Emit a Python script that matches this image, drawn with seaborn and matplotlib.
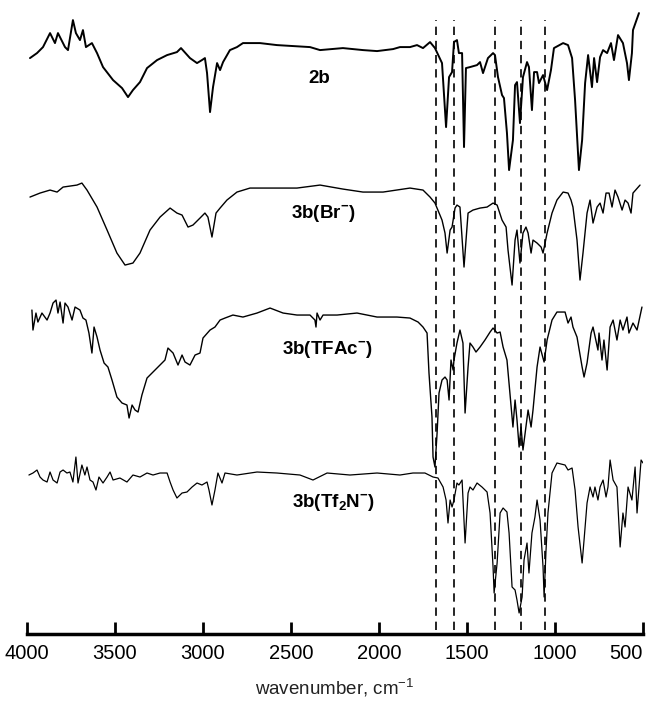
import pandas as pd
import seaborn as sns
import matplotlib.pyplot as plt

sns.set_theme(style="white")
plt.rcParams["font.family"] = ["Liberation Sans", "DejaVu Sans"]
plt.rcParams["mathtext.fontset"] = "custom"
plt.rcParams["mathtext.rm"] = "Liberation Sans"
plt.rcParams["mathtext.bf"] = "Liberation Sans:bold"
plt.rcParams["text.color"] = "black"

# wavenumber (cm-1) / offset transmittance (a.u.)
WN_2B = [3983, 3943, 3909, 3869, 3841, 3824, 3784, 3767, 3739, 3722, 3699, 3682, 3665, 3631,
         3602, 3568, 3511, 3460, 3426, 3398, 3358, 3318, 3261, 3204, 3148, 3125, 3074, 3034,
         3006, 2989, 2977, 2960, 2943, 2920, 2903, 2886, 2847, 2807, 2773, 2676, 2580, 2392,
         2335, 2205, 2091, 2011, 1920, 1881, 1824, 1784, 1750, 1710, 1682, 1642, 1619, 1602,
         1585, 1574, 1557, 1546, 1528, 1517, 1506, 1483, 1443, 1426, 1409, 1381, 1352, 1341,
         1324, 1301, 1290, 1273, 1261, 1239, 1227, 1216, 1199, 1182, 1159, 1148, 1131, 1119,
         1102, 1091, 1068, 1045, 1023, 1006, 954, 926, 903, 886, 864, 846, 829, 812, 790, 778,
         761, 744, 727, 704, 682, 665, 642, 614, 591, 580, 563, 557, 523]
T_2B = [576, 581, 587, 601, 591, 601, 587, 584, 614, 601, 594, 604, 587, 591,
        581, 567, 554, 546, 537, 544, 552, 566, 574, 579, 582, 586, 576, 571,
        574, 576, 561, 522, 547, 571, 564, 572, 584, 587, 591, 591, 589, 587,
        584, 586, 584, 583, 585, 587, 587, 589, 586, 592, 586, 571, 507, 557,
        562, 592, 594, 581, 581, 487, 566, 567, 569, 572, 561, 576, 581, 579,
        557, 539, 536, 501, 464, 494, 549, 552, 511, 557, 572, 567, 524, 562,
        562, 551, 559, 544, 564, 586, 591, 589, 576, 534, 464, 494, 551, 579, 547, 576,
        552, 577, 584, 581, 591, 574, 599, 591, 571, 554, 581, 604, 621]

WN_BR = [3983, 3926, 3869, 3829, 3795, 3716, 3688, 3659, 3602, 3545, 3489, 3443, 3398, 3358,
         3301, 3244, 3187, 3148, 3119, 3085, 3057, 3017, 2989, 2972, 2949, 2926, 2903, 2864,
         2807, 2733, 2580, 2466, 2335, 2205, 2091, 1977, 1824, 1750, 1710, 1682, 1642, 1625,
         1613, 1596, 1585, 1568, 1557, 1540, 1517, 1500, 1494, 1466, 1426, 1386, 1352, 1329,
         1301, 1278, 1267, 1244, 1227, 1216, 1199, 1182, 1165, 1153, 1136, 1125, 1102, 1079,
         1068, 1045, 1017, 989, 954, 926, 909, 898, 875, 858, 841, 818, 801, 784, 761, 744,
         727, 710, 693, 676, 659, 642, 619, 602, 585, 568, 557, 517]
T_BR = [437, 441, 444, 442, 447, 449, 451, 444, 427, 404, 381, 369, 371, 381,
        404, 417, 426, 421, 419, 407, 409, 416, 421, 417, 397, 421, 426, 434,
        442, 446, 446, 446, 449, 445, 442, 442, 446, 444, 437, 431, 414, 401,
        381, 404, 407, 426, 429, 427, 367, 407, 421, 424, 426, 427, 431, 429,
        414, 407, 384, 349, 394, 404, 371, 401, 407, 401, 381, 394, 391, 387,
        381, 401, 421, 434, 442, 441, 434, 427, 394, 354, 381, 421, 434, 411, 427, 431,
        421, 441, 441, 427, 444, 437, 424, 434, 431, 421, 441, 449]

WN_TFAC = [3972, 3966, 3949, 3938, 3915, 3886, 3869, 3852, 3835, 3824, 3812, 3795, 3784, 3767,
           3744, 3727, 3699, 3682, 3665, 3648, 3631, 3619, 3602, 3585, 3562, 3540, 3517, 3489,
           3460, 3432, 3420, 3403, 3386, 3369, 3347, 3318, 3284, 3244, 3216, 3199, 3170, 3142,
           3119, 3102, 3074, 3045, 3017, 3000, 2960, 2932, 2903, 2875, 2830, 2773, 2693, 2619,
           2545, 2466, 2392, 2364, 2358, 2352, 2335, 2318, 2238, 2125, 2011, 1898, 1824, 1778,
           1750, 1727, 1716, 1699, 1693, 1682, 1670, 1659, 1642, 1625, 1613, 1602, 1591, 1579,
           1574, 1557, 1540, 1523, 1511, 1494, 1483, 1466, 1449, 1426, 1398, 1369, 1352, 1329,
           1312, 1295, 1273, 1256, 1239, 1227, 1216, 1204, 1193, 1182, 1165, 1153, 1136, 1125,
           1102, 1085, 1062, 1045, 1017, 989, 943, 926, 909, 898, 875, 846, 835, 818, 795, 784,
           756, 750, 733, 722, 704, 687, 670, 648, 630, 614, 591, 580, 557, 534, 506]
T_TFAC = [324, 304, 321, 312, 321, 314, 321, 331, 334, 321, 332, 311, 331, 327,
          314, 327, 324, 316, 314, 301, 281, 307, 297, 284, 271, 267, 254, 237,
          231, 229, 216, 229, 224, 222, 239, 256, 262, 269, 274, 286, 281, 269,
          279, 272, 269, 279, 281, 296, 304, 307, 314, 316, 319, 317, 321, 326,
          321, 319, 319, 314, 307, 321, 314, 319, 319, 321, 317, 317, 316, 312,
          307, 301, 261, 217, 177, 167, 201, 241, 254, 257, 254, 234, 274, 264,
          274, 291, 304, 291, 221, 267, 291, 287, 282, 287, 294, 302, 306, 301,
          302, 287, 274, 241, 207, 234, 214, 187, 207, 184, 207, 224, 207, 224,
          267, 287, 272, 294, 314, 322, 322, 311, 317, 307, 297, 267, 257, 271, 301, 307,
          284, 301, 274, 294, 264, 307, 314, 294, 314, 304, 317, 301, 311, 304, 327]

WN_TF2N = [3989, 3966, 3943, 3926, 3909, 3886, 3869, 3852, 3829, 3812, 3795, 3773, 3756, 3739,
           3722, 3710, 3688, 3671, 3659, 3642, 3625, 3608, 3591, 3568, 3545, 3528, 3511, 3472,
           3432, 3398, 3358, 3318, 3284, 3244, 3204, 3187, 3170, 3148, 3119, 3091, 3062, 3034,
           3006, 2977, 2966, 2949, 2932, 2915, 2892, 2875, 2807, 2693, 2580, 2449, 2375, 2295,
           2165, 2011, 1881, 1807, 1739, 1693, 1665, 1636, 1619, 1608, 1596, 1585, 1574, 1557,
           1546, 1528, 1511, 1494, 1483, 1466, 1443, 1415, 1386, 1369, 1352, 1346, 1329, 1312,
           1295, 1273, 1261, 1244, 1227, 1216, 1204, 1187, 1176, 1159, 1148, 1131, 1114, 1102,
           1085, 1068, 1062, 1051, 1040, 1017, 989, 943, 926, 903, 886, 869, 846, 835, 818, 801,
           784, 773, 756, 744, 727, 710, 699, 687, 670, 648, 630, 614, 602, 585, 563, 545, 534,
           511, 500]
T_TF2N = [159, 161, 164, 157, 154, 152, 162, 154, 151, 162, 164, 161, 162, 152,
          177, 151, 169, 159, 167, 154, 152, 144, 157, 151, 157, 162, 154, 156,
          152, 159, 157, 161, 159, 161, 161, 152, 144, 136, 141, 142, 147, 151,
          149, 152, 144, 129, 144, 161, 151, 161, 159, 162, 161, 159, 154, 161,
          159, 161, 159, 161, 161, 157, 156, 147, 134, 111, 134, 127, 134, 151,
          149, 154, 91, 141, 147, 144, 151, 147, 142, 121, 67, 41, 71, 121,
          126, 122, 101, 47, 44, 34, 21, 37, 74, 91, 61, 101, 117, 134,
          114, 67, 37, 84, 121, 161, 171, 169, 164, 166, 144, 107, 71, 94, 131, 147,
          137, 147, 134, 147, 154, 137, 147, 174, 154, 147, 87, 121, 107, 147, 134, 167, 121,
          174, 171]

SPECTRA = [("2b", WN_2B, T_2B, 1.4),
           ("3b(Br-)", WN_BR, T_BR, 1.0),
           ("3b(TFAc-)", WN_TFAC, T_TFAC, 1.0),
           ("3b(Tf2N-)", WN_TF2N, T_TF2N, 0.9)]

# sample labels: text, wavenumber, y
LABELS = [("2b", 2341, 556),
          ("3b(Br$^{\\mathbf{-}}$)", 2318, 420),
          ("3b(TFAc$^{\\mathbf{-}}$)", 2295, 284),
          ("3b(Tf$_{\\mathbf{2}}$N$^{\\mathbf{-}}$)", 2261, 131)]

DASH_WN = [1675, 1575, 1340, 1195, 1055]
XTICKS = [4000, 3500, 3000, 2500, 2000, 1500, 1000, 500]


def main():
    fig = plt.figure(figsize=(6.55, 7.01), dpi=100)
    ax = fig.add_axes([0.0412, 0.0956, 0.9405, 0.890])

    for name, wn, t, lw in SPECTRA:
        df = pd.DataFrame({"wavenumber": wn, "T": t})
        sns.lineplot(data=df, x="wavenumber", y="T", color="black", lw=lw,
                     estimator=None, sort=False, ax=ax)

    ax.vlines(DASH_WN, 4, 614, colors="black", linestyles=(0, (5, 3.5)), lw=1.2)

    for text, x, y in LABELS:
        ax.text(x, y, text, ha="center", va="center", fontsize=13.5,
                fontweight="bold", color="black")

    ax.set_xlim(4000, 500)
    ax.set_ylim(0, 624)
    ax.set_xticks(XTICKS)
    ax.set_yticks([])
    ax.set_ylabel("")
    ax.set_xlabel("wavenumber, cm$^{-1}$", fontsize=13.5, labelpad=10, color="#222222")
    for side in ["top", "left", "right"]:
        ax.spines[side].set_visible(False)
    ax.spines["bottom"].set_linewidth(2.5)
    ax.spines["bottom"].set_color("black")
    ax.tick_params(axis="x", direction="in", length=9, width=2, pad=7,
                   labelsize=14.5, colors="black", bottom=True)
    # the last label sits flush with the right edge of the figure
    ax.get_xticklabels()[-1].set_horizontalalignment("right")
    ax.get_xticklabels()[-1].set_x(ax.get_xticklabels()[-1].get_position()[0])

    fig.savefig("out.png", dpi=100)


if __name__ == "__main__":
    main()
